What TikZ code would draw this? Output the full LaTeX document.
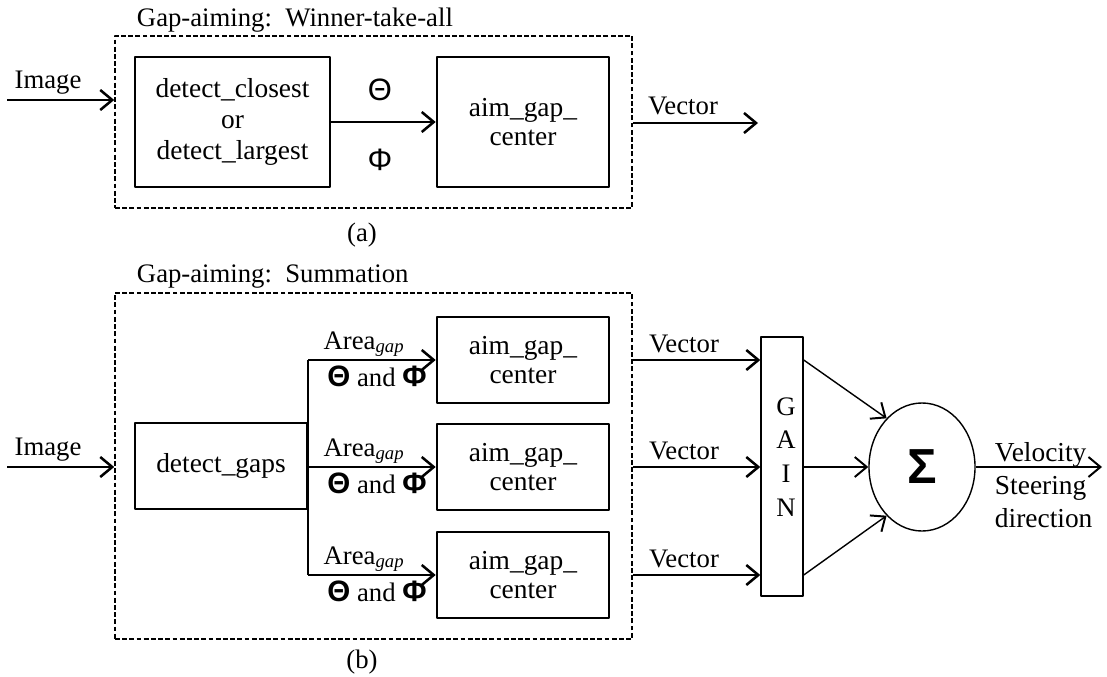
\documentclass[tikz,border=0pt]{standalone}
\usepackage{fontspec}
\setmainfont{Liberation Serif}
\setsansfont{Liberation Sans}
\usetikzlibrary{arrows.meta,shapes.geometric}

\begin{document}
\begin{tikzpicture}[x=0.025cm, y=-0.025cm, font=\fontsize{19}{23.5}\selectfont, line join=round,
		>={Straight Barb[length=0.3cm,width=0.5cm,line width=1.8pt]},
		blk/.style={draw, line width=1.8pt, inner sep=0pt, align=center},
		frm/.style={draw, line width=1pt, dash pattern=on 0.12cm off 0.06cm, inner sep=0pt},
		arr/.style={->, line width=1.6pt},
		thn/.style={-{Straight Barb[length=0.3cm,width=0.5cm,line width=1.4pt]}, line width=1pt},
		grk/.style={font=\fontsize{22}{24}\selectfont\sffamily}]
	\useasboundingbox (0,0) rectangle (1107,677);
	% (a) winner-take-all
	\node[frm, minimum width=12.925cm, minimum height=4.3cm] (frmA) at (373.5,122) {};
	\node[anchor=west] (ttlA) at (132,20) {Gap-aiming:\ \ Winner-take-all};
	\node[blk, minimum width=4.875cm, minimum height=3.25cm, font=\fontsize{19.5}{22}\selectfont] (det) at (232.5,122) {detect\_closest\\or\\detect\_largest};
	\node[blk, minimum width=4.3cm, minimum height=3.25cm, font=\fontsize{19.5}{21}\selectfont] (aimA) at (523,122) {aim\_gap\_\\center};
	\coordinate (inA) at (7,100);
	\coordinate (outA) at (758,123);
	\draw[arr] (inA) -- (frmA.west |- inA);
	\node (imgA) at (48,83) {Image};
	\draw[arr] (det) -- (aimA);
	\node[grk] (thA) at (380,90) {Θ};
	\node[grk] (phA) at (380,160) {Φ};
	\draw[arr] (frmA.east |- outA) -- (outA);
	\node (vecA) at (683,106) {Vector};
	\node (capA) at (362,235) {(a)};
	% (b) summation
	\node[frm, minimum width=12.925cm, minimum height=8.65cm] (frmB) at (373.5,466) {};
	\node[anchor=west] (ttlB) at (132,277) {Gap-aiming:\ \ Summation};
	\node[blk, minimum width=4.3cm, minimum height=2.15cm, font=\fontsize{19.5}{22}\selectfont] (gaps) at (221,466) {detect\_gaps};
	\node[draw, line width=1pt, minimum width=1.05cm, minimum height=6.475cm, inner sep=0pt] (gain) at (782,466.5) {};
	\node[align=center, font=\fontsize{19}{24}\selectfont] (gtxt) at (786,457) {G\\A\\I\\N};
	\node[ellipse, draw, line width=1pt, minimum width=2.65cm, minimum height=3.2cm, inner sep=0pt] (sum) at (922,467) {\fontsize{35}{35}\selectfont\sffamily\bfseries Σ};
	\coordinate (inB) at (7,467);
	\draw[arr] (inB) -- (frmB.west |- inB);
	\node (imgB) at (48,450) {Image};
	\foreach \i/\y in {1/360,2/467,3/575} {
		\node[blk, minimum width=4.3cm, minimum height=2.15cm, font=\fontsize{19.5}{21}\selectfont] (aim\i) at (523,\y) {aim\_gap\_\\center};
		\draw[arr] (gaps.east |- aim\i) -- (aim\i);
		\node (area\i) at (364,\y-16) {Area\textsubscript{\itshape gap}};
		\node (ang\i) at (377,\y+16) {{\fontsize{21}{24}\selectfont\sffamily\bfseries Θ} and {\fontsize{21}{24}\selectfont\sffamily\bfseries Φ}};
		\draw[arr] (frmB.east |- aim\i) -- (gain.west |- aim\i);
		\node (vec\i) at (684,\y-16) {Vector};
	}
	\draw[line width=1.6pt] (gaps.east |- aim1) -- (gaps.east |- aim3);
	\draw[thn] (gain.east |- aim1) -- (sum.126);
	\draw[thn] (gain.east |- sum) -- (sum);
	\draw[thn] (gain.east |- aim3) -- (sum.234);
	\coordinate (outB) at (1102,467);
	\draw[thn] (sum) -- (outB);
	\node[anchor=west, align=left, font=\fontsize{19.5}{23.5}\selectfont] (vel) at (990,485) {Velocity\\Steering\\direction};
	\node (capB) at (362,662) {(b)};
\end{tikzpicture}
\end{document}
